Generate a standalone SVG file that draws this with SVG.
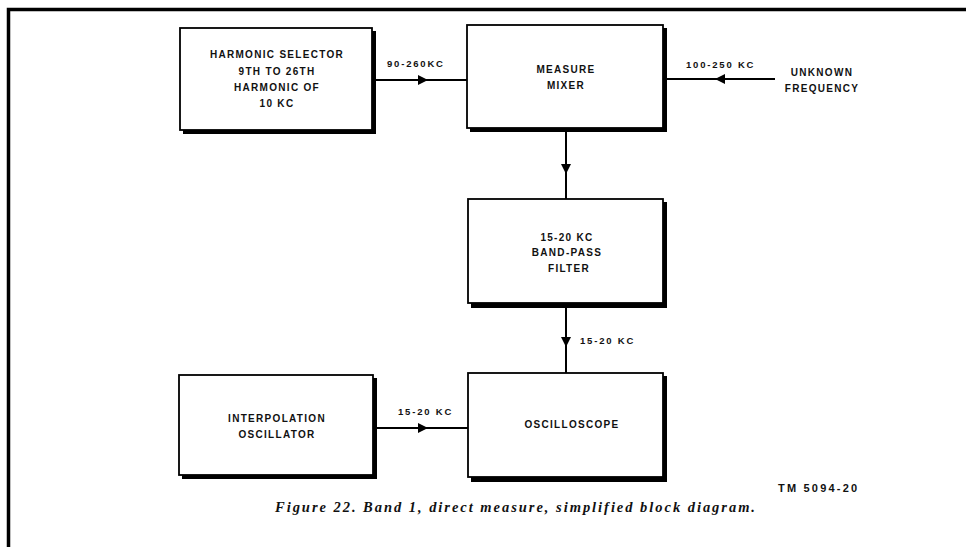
<svg xmlns="http://www.w3.org/2000/svg" width="966" height="547" viewBox="0 0 966 547">
<defs>
<style>
.bx{fill:#fff;stroke:#000;stroke-width:1.8}
.sh{fill:#000}
.t{font-family:"Liberation Sans",Arial,sans-serif;font-weight:bold;font-size:10px;letter-spacing:1.3px;fill:#111;text-anchor:middle}
.l{font-family:"Liberation Sans",Arial,sans-serif;font-weight:bold;font-size:9.5px;letter-spacing:1.8px;fill:#111}
.ln{stroke:#000;stroke-width:2;fill:none}
.cap{font-family:"Liberation Serif","Times New Roman",serif;font-style:italic;font-weight:bold;font-size:14.5px;fill:#111}
</style>
</defs>
<rect width="966" height="547" fill="#fff"/>
<path d="M8.5,547 V9.5 H966" stroke="#000" stroke-width="3.5" fill="none"/>

<g id="harmonic">
<rect class="sh" x="183" y="31" width="193" height="103"/>
<rect class="bx" x="180" y="28" width="192" height="102"/>
<text class="t" x="277" y="58">HARMONIC SELECTOR</text>
<text class="t" x="277" y="75">9TH TO 26TH</text>
<text class="t" x="277" y="91">HARMONIC OF</text>
<text class="t" x="277" y="107">10 KC</text>
</g>

<g id="mixer">
<rect class="sh" x="470" y="28" width="197" height="104"/>
<rect class="bx" x="467" y="25" width="196" height="103"/>
<text class="t" x="566" y="73">MEASURE</text>
<text class="t" x="566" y="89">MIXER</text>
</g>

<g id="unknown">
<text class="t" x="822" y="76">UNKNOWN</text>
<text class="t" x="822" y="92">FREQUENCY</text>
</g>

<g id="filter">
<rect class="sh" x="471" y="202" width="196" height="106"/>
<rect class="bx" x="468" y="199" width="195" height="104"/>
<text class="t" x="567" y="241">15-20 KC</text>
<text class="t" x="567" y="256">BAND-PASS</text>
<text class="t" x="569" y="272">FILTER</text>
</g>

<g id="oscilloscope">
<rect class="sh" x="471" y="376" width="196" height="106"/>
<rect class="bx" x="468" y="373" width="195" height="104"/>
<text class="t" x="572" y="428">OSCILLOSCOPE</text>
</g>

<g id="interpolation">
<rect class="sh" x="182" y="378" width="195" height="101"/>
<rect class="bx" x="179" y="375" width="194" height="100"/>
<text class="t" x="277" y="422">INTERPOLATION</text>
<text class="t" x="277" y="438">OSCILLATOR</text>
</g>

<g id="connectors">
<line class="ln" x1="373" y1="80" x2="467" y2="80"/>
<path d="M418,75 L428,80 L418,85 z" fill="#000"/>
<text class="l" x="387" y="67">90-260KC</text>

<line class="ln" x1="775" y1="79" x2="667" y2="79"/>
<path d="M725,74 L715,79 L725,84 z" fill="#000"/>
<text class="l" x="686" y="68">100-250 KC</text>

<line class="ln" x1="566" y1="132" x2="566" y2="199"/>
<path d="M561,164 L566,174 L571,164 z" fill="#000"/>

<line class="ln" x1="566" y1="308" x2="566" y2="373"/>
<path d="M561,337 L566,347 L571,337 z" fill="#000"/>
<text class="l" x="580" y="344">15-20 KC</text>

<line class="ln" x1="377" y1="428" x2="468" y2="428"/>
<path d="M418,423 L428,428 L418,433 z" fill="#000"/>
<text class="l" x="398" y="415">15-20 KC</text>
</g>

<text class="l" x="778" y="492" style="font-size:11px;letter-spacing:2.2px">TM 5094-20</text>
<text class="cap" x="275" y="512" textLength="480" lengthAdjust="spacing">Figure 22.  Band 1, direct measure, simplified block diagram.</text>
</svg>
